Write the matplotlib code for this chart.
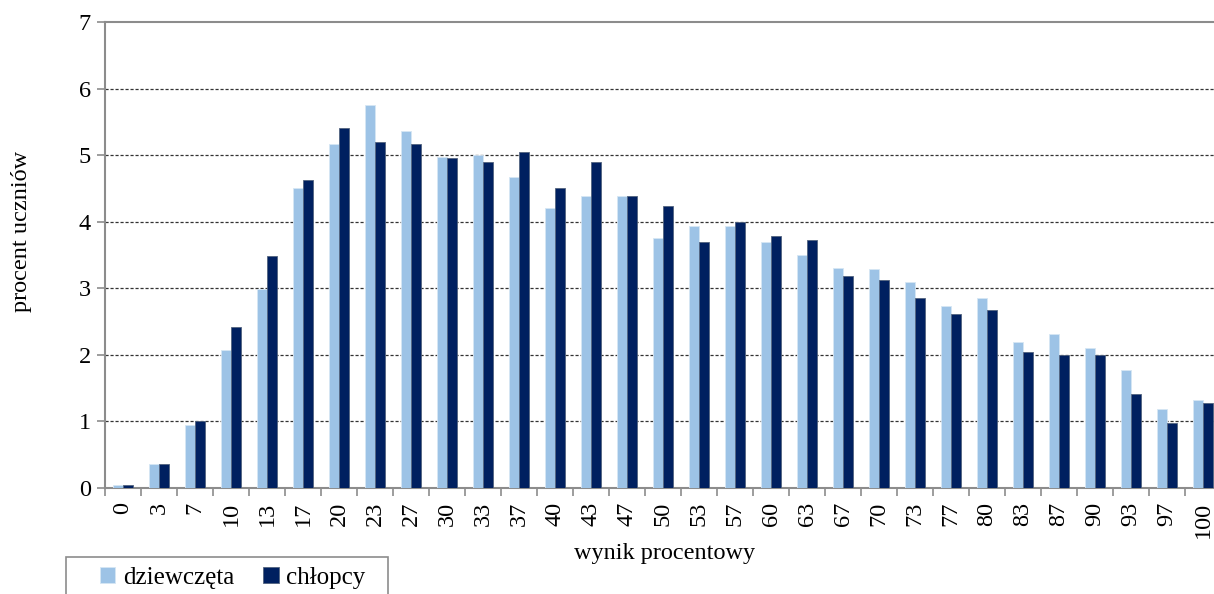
# Rozkład wyników procentowych - dziewczęta i chłopcy
import numpy as np
import matplotlib
matplotlib.use('Agg')
import matplotlib.pyplot as plt
from matplotlib.patches import Rectangle

plt.rcParams['font.family'] = ['Liberation Serif', 'DejaVu Serif']

# Wynik procentowy (kategorie na osi x).
categories = ['0', '3', '7', '10', '13', '17', '20', '23', '27', '30', '33',
              '37', '40', '43', '47', '50', '53', '57', '60', '63', '67', '70',
              '73', '77', '80', '83', '87', '90', '93', '97', '100']

# Procent uczniów.
girls = [0.05, 0.36, 0.94, 2.07, 2.99, 4.51, 5.16, 5.75, 5.37, 4.97, 5.00,
         4.67, 4.20, 4.38, 4.38, 3.75, 3.94, 3.94, 3.70, 3.50, 3.30, 3.29,
         3.10, 2.73, 2.86, 2.20, 2.32, 2.10, 1.78, 1.19, 1.32]
boys = [0.04, 0.36, 1.00, 2.42, 3.49, 4.62, 5.41, 5.20, 5.16, 4.95, 4.89,
        5.04, 4.51, 4.89, 4.38, 4.23, 3.69, 4.00, 3.79, 3.72, 3.18, 3.13,
        2.86, 2.62, 2.67, 2.04, 2.00, 2.00, 1.41, 0.97, 1.27]

series_names = ['dziewczęta', 'chłopcy']
light_blue = '#9dc3e6'
dark_blue = '#002060'
frame_gray = '#8c8c8c'

W, H = 1214, 594
fig = plt.figure(figsize=(W / 100, H / 100), dpi=100)
ax = fig.add_axes([105 / W, (H - 488) / H, (1221 - 105) / W, (488 - 22) / H])

x = np.arange(len(categories))
bw = 0.29
ax.bar(x - bw / 2, girls, bw, color=light_blue, edgecolor='#d6e6f4',
       linewidth=0.6, label=series_names[0], zorder=3)
ax.bar(x + bw / 2, boys, bw, color=dark_blue, edgecolor='#52637f',
       linewidth=0.6, label=series_names[1], zorder=3)

ax.set_xlim(-0.5, len(categories) - 0.5)
ax.set_ylim(0, 7)

# Siatka pozioma.
ax.set_yticks(range(0, 8))
for v in range(1, 7):
    ax.axhline(v, color='#333333', linewidth=0.9, linestyle=(0, (2.5, 1.5)),
               zorder=1)

# Ramka.
for side in ['top', 'left', 'bottom']:
    ax.spines[side].set_color(frame_gray)
    ax.spines[side].set_linewidth(1.5)
ax.spines['right'].set_visible(False)

ax.tick_params(axis='y', length=6, width=1.2, color=frame_gray,
               labelsize=17.5, pad=4)

# Etykiety w środkach kategorii, kreski na granicach.
ax.set_xticks(x)
ax.set_xticklabels(categories, rotation=90, fontsize=17.5)
ax.tick_params(axis='x', which='major', length=0, pad=10)
ax.set_xticks(np.arange(-0.5, len(categories), 1), minor=True)
ax.tick_params(axis='x', which='minor', length=6, width=1.2,
               color=frame_gray)

fig.text(22 / W, 1 - 231 / H, 'procent uczniów', rotation=90,
         ha='center', va='center', fontsize=17.5)
fig.text(665 / W, 1 - 553 / H, 'wynik procentowy', ha='center',
         va='center', fontsize=17.5)

# Legenda w osobnej ramce, ucięta dolną krawędzią rysunku.
fig.patches.append(Rectangle((66 / W, -10 / H), (388 - 66) / W, (594 - 557 + 10) / H,
                             transform=fig.transFigure, fill=False,
                             edgecolor=frame_gray, linewidth=1.2))
fig.legend(loc='upper left', bbox_to_anchor=(100 / W, 1 - 567 / H),
           ncol=2, fontsize=18, frameon=False,
           handlelength=0.62, handleheight=0.62, handletextpad=0.3,
           columnspacing=1.15, borderpad=0, borderaxespad=0)

fig.savefig('out.png', dpi=100)
